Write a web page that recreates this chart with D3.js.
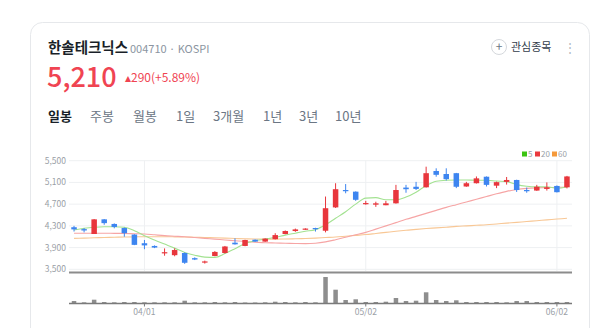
<!DOCTYPE html>
<html>
<head>
<meta charset="utf-8">
<script src="https://cdn.jsdelivr.net/npm/d3@7"></script>
<style>
  html, body { margin: 0; padding: 0; background: #fff; }
  svg { display: block; font-family: "Noto Sans CJK KR", "Noto Sans", sans-serif; }
</style>
</head>
<body>
<div id="chart"></div>
<script>
// Daily candles, 2025-03-21 .. 2025-06-04
const dates = ["03/21","03/24","03/25","03/26","03/27","03/28","03/31","04/01","04/02","04/03",
  "04/04","04/07","04/08","04/09","04/10","04/11","04/14","04/15","04/16","04/17",
  "04/18","04/21","04/22","04/23","04/24","04/25","04/28","04/29","04/30","05/02",
  "05/07","05/08","05/09","05/12","05/13","05/14","05/15","05/16","05/19","05/20",
  "05/21","05/22","05/23","05/26","05/27","05/28","05/29","05/30","06/02","06/04"];

const open = [4275,4240,4150,4420,4335,4260,4140,3980,3930,3795,3760,3800,3705,3625,3745,3800,3990,3930,4045,4010,
  4055,4150,4205,4230,4260,4210,4640,4960,4930,4700,4690,4680,4715,5005,5020,5010,5310,5255,5270,5025,
  5085,5205,5040,5110,5145,4960,4950,4980,5035,5010];
const high = [4300,4260,4425,4425,4345,4270,4145,4040,3940,3885,3885,3810,3720,3660,3835,3930,4070,4045,4050,4070,
  4165,4215,4250,4255,4265,4840,5085,5070,4935,4760,4745,4760,5055,5055,5110,5390,5360,5360,5275,5110,
  5210,5210,5115,5200,5150,5005,5055,5100,5045,5220];
const low = [4195,4180,4150,4320,4255,4100,3945,3870,3890,3750,3740,3600,3670,3605,3740,3790,3955,3925,4005,4005,
  4050,4145,4190,4225,4195,4180,4630,4900,4760,4690,4650,4680,4710,4910,4960,5005,5205,5135,4995,5020,
  5080,5025,4995,5060,4925,4910,4945,4950,4915,4990];
const close = [4235,4215,4420,4350,4280,4165,3950,3940,3900,3815,3855,3620,3680,3645,3820,3920,3960,4040,4010,4065,
  4130,4205,4235,4250,4240,4625,4975,4940,4780,4720,4715,4715,4960,4975,4980,5270,5240,5160,5020,5085,
  5175,5055,5105,5145,4960,4945,5020,5010,4920,5210];

// volume, thousand shares
const volume = [200,70,330,100,70,100,100,70,70,70,70,230,70,70,100,70,100,50,50,70,
  130,100,70,100,70,2600,1330,300,370,100,100,130,500,200,230,1070,300,200,270,100,
  100,100,100,70,200,200,100,100,100,100];

// moving averages as drawn
const ma5 = [4225,4255,4275,4285,4285,4275,4210,4120,4040,3965,3890,3810,3760,3725,3720,3790,3880,3975,4025,4055,
  4090,4130,4165,4200,4230,4320,4440,4560,4700,4810,4820,4780,4780,4830,4920,5040,5120,5140,5145,5145,
  5140,5140,5125,5115,5060,5030,5020,5020,4990,5020];
const ma20 = [4165,4165,4165,4165,4162,4160,4155,4150,4135,4120,4110,4100,4085,4070,4055,4040,4025,4010,4000,3990,
  3985,3980,3975,3972,3980,4005,4045,4090,4135,4180,4240,4300,4360,4420,4475,4530,4585,4640,4690,4740,
  4790,4840,4890,4935,4970,4990,5000,5005,5010,5015];
const ma60 = [4070,4075,4080,4085,4090,4095,4098,4100,4100,4100,4098,4095,4090,4085,4080,4075,4068,4062,4058,4055,
  4055,4058,4062,4068,4075,4085,4095,4110,4125,4140,4160,4180,4200,4218,4235,4250,4262,4275,4290,4300,
  4310,4320,4335,4350,4365,4380,4395,4410,4425,4440];

const priceTicks = [3500, 3900, 4300, 4700, 5100, 5500];
const dateTicks = ["04/01", "05/02", "06/02"];
const tabs = ["일봉", "주봉", "월봉", "1일", "3개월", "1년", "3년", "10년"];
const maLegend = [{ name: "5", color: "#3cc412" }, { name: "20", color: "#ea3a3f" }, { name: "60", color: "#f5993a" }];

const width = 600, height = 328;
const UP = "#e8363c", DOWN = "#3d85f0";

const svg = d3.select("#chart").append("svg")
  .attr("width", width)
  .attr("height", height);

// card
svg.append("rect")
  .attr("x", 30.5).attr("y", 22.5)
  .attr("width", 559).attr("height", 330)
  .attr("rx", 12)
  .attr("fill", "#fff")
  .attr("stroke", "#e6e8eb");

// header
svg.append("text").attr("x", 48).attr("y", 53)
  .attr("font-size", 14.5).attr("font-weight", 700).attr("fill", "#191f28")
  .text("한솔테크닉스");
svg.append("text").attr("x", 130).attr("y", 53)
  .attr("font-size", 11).attr("fill", "#8b95a1")
  .text("004710 · KOSPI");

svg.append("text").attr("x", 47).attr("y", 87)
  .attr("font-size", 27).attr("font-weight", 500).attr("fill", "#f04452")
  .text("5,210");
svg.append("text").attr("x", 125).attr("y", 82)
  .attr("font-size", 12).attr("fill", "#f04452")
  .text("▴290(+5.89%)");

// watch button
svg.append("circle").attr("cx", 499).attr("cy", 47).attr("r", 7.5)
  .attr("fill", "#fff").attr("stroke", "#d5d8dc");
svg.append("text").attr("x", 499).attr("y", 51).attr("text-anchor", "middle")
  .attr("font-size", 12).attr("fill", "#6b7684").text("+");
svg.append("text").attr("x", 511).attr("y", 51)
  .attr("font-size", 11).attr("fill", "#333d4b").text("관심종목");
svg.append("text").attr("x", 570).attr("y", 52).attr("text-anchor", "middle")
  .attr("font-size", 12).attr("fill", "#b0b8c1").text("⋮");

// period tabs
const tabX = [48, 90, 133, 176, 213, 263, 299, 335];
svg.append("g").selectAll("text")
  .data(tabs)
  .join("text")
  .attr("x", (d, i) => tabX[i])
  .attr("y", 121)
  .attr("font-size", 13)
  .attr("font-weight", (d, i) => i === 0 ? 700 : 400)
  .attr("fill", (d, i) => i === 0 ? "#191f28" : "#6b7684")
  .text(d => d);

// scales
const x = d3.scaleBand().domain(dates).range([69, 572]).padding(0);
const cx = d => x(d) + x.bandwidth() / 2;
const y = d3.scaleLinear().domain([3500, 5500]).range([269.3, 160.7]);
const yv = d3.scaleLinear().domain([0, 3070]).range([303, 272.3]);

// grid
const grid = svg.append("g");
grid.selectAll(".h")
  .data(priceTicks)
  .join("line")
  .attr("x1", 69).attr("x2", 572)
  .attr("y1", d => y(d)).attr("y2", d => y(d))
  .attr("stroke", "#eef0f2");
grid.selectAll(".v")
  .data(dateTicks)
  .join("line")
  .attr("x1", d => cx(d)).attr("x2", d => cx(d))
  .attr("y1", y(5500)).attr("y2", 271)
  .attr("stroke", "#eef0f2");

// y labels
svg.append("g").selectAll("text")
  .data(priceTicks)
  .join("text")
  .attr("x", 66)
  .attr("y", d => y(d) + 3)
  .attr("text-anchor", "end")
  .attr("font-size", 8.5)
  .attr("fill", "#9aa0a6")
  .text(d => d3.format(",")(d));

// legend
const leg = svg.append("g").attr("font-size", 8).attr("fill", "#9aa0a6");
let lx = 522;
maLegend.forEach(m => {
  leg.append("rect").attr("x", lx).attr("y", 151.5).attr("width", 5).attr("height", 5).attr("fill", m.color);
  leg.append("text").attr("x", lx + 6).attr("y", 157).text(m.name);
  lx += m.name.length > 1 ? 17 : 13;
});

// moving averages
const maLine = arr => d3.line()
  .x((d, i) => cx(dates[i]))
  .y(d => y(d))
  .curve(d3.curveMonotoneX)(arr);

[[ma60, "#f8c795"], [ma20, "#f6a5a5"], [ma5, "#a3e291"]].forEach(([arr, color]) => {
  svg.append("path")
    .attr("d", maLine(arr))
    .attr("fill", "none")
    .attr("stroke", color)
    .attr("stroke-width", 1.1);
});

// candles
const candles = dates.map((d, i) => ({ d, o: open[i], h: high[i], l: low[i], c: close[i] }));
const cg = svg.append("g").selectAll("g")
  .data(candles)
  .join("g");

cg.append("line")
  .attr("x1", d => cx(d.d)).attr("x2", d => cx(d.d))
  .attr("y1", d => y(d.h)).attr("y2", d => y(d.l))
  .attr("stroke", d => d.c >= d.o ? UP : DOWN)
  .attr("stroke-width", 1);

cg.append("rect")
  .attr("x", d => cx(d.d) - 2.75)
  .attr("width", 5.5)
  .attr("y", d => y(Math.max(d.o, d.c)))
  .attr("height", d => Math.max(1.2, Math.abs(y(d.o) - y(d.c))))
  .attr("fill", d => d.c >= d.o ? UP : DOWN);

// pane separator
svg.append("line")
  .attr("x1", 69).attr("x2", 572)
  .attr("y1", 272.5).attr("y2", 272.5)
  .attr("stroke", "#8c8c8c").attr("stroke-width", 2);

// volume
svg.append("g").selectAll("rect")
  .data(volume)
  .join("rect")
  .attr("x", (d, i) => cx(dates[i]) - 2.25)
  .attr("width", 4.5)
  .attr("y", d => yv(d))
  .attr("height", d => yv(0) - yv(d))
  .attr("fill", "#8e8e8e");

// x axis
svg.append("line")
  .attr("x1", 69).attr("x2", 572)
  .attr("y1", 303.5).attr("y2", 303.5)
  .attr("stroke", "#7a7a7a").attr("stroke-width", 1.5);

const xt = svg.append("g").selectAll("g")
  .data(dateTicks)
  .join("g")
  .attr("transform", d => `translate(${cx(d)},0)`);
xt.append("line").attr("y1", 303).attr("y2", 306.5).attr("stroke", "#7a7a7a");
xt.append("text")
  .attr("y", 315)
  .attr("text-anchor", "middle")
  .attr("font-size", 8.5)
  .attr("fill", "#9aa0a6")
  .text(d => d);
</script>
</body>
</html>
